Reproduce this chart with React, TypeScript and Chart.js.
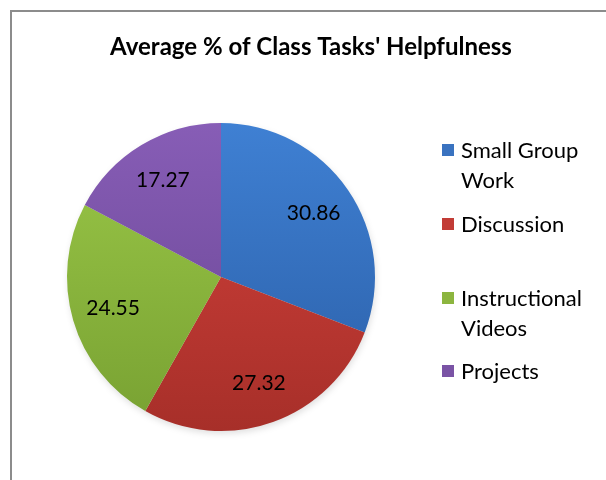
import React, { useEffect, useRef } from "react";
import { Chart, registerables } from "chart.js";

Chart.register(...registerables);

const TITLE = "Average % of Class Tasks' Helpfulness";
const categories = ["Small Group Work", "Discussion", "Instructional Videos", "Projects"];
const legendLines = [["Small Group", "Work"], ["Discussion"], ["Instructional", "Videos"], ["Projects"]];
const values = [30.86, 27.32, 24.55, 17.27];
const valueLabels = ["30.86", "27.32", "24.55", "17.27"];
const lightColors = ["#3f80d3", "#d4423c", "#9bc848", "#875db6"];
const darkColors = ["#2a5ea6", "#a72f29", "#78a132", "#684592"];
const legendColors = ["#3a73c0", "#c23c36", "#8cb53f", "#7a53a5"];

const FONT = "Lato, 'Open Sans', 'Liberation Sans', sans-serif";

export default function App() {
  const ref = useRef<HTMLCanvasElement | null>(null);

  useEffect(() => {
    const canvas = ref.current;
    if (!canvas) return;

    const decor = {
      id: "decor",
      beforeDatasetsDraw(chart: any) {
        const ctx = chart.ctx;
        const meta = chart.getDatasetMeta(0);
        const arc = meta.data[0];
        if (!arc) return;
        ctx.save();
        ctx.beginPath();
        ctx.arc(arc.x + 1, arc.y + 3, arc.outerRadius, 0, Math.PI * 2);
        ctx.fillStyle = "rgba(0,0,0,0.12)";
        ctx.filter = "blur(3px)";
        ctx.fill();
        ctx.restore();
      },
      afterDatasetsDraw(chart: any) {
        const ctx = chart.ctx;
        const meta = chart.getDatasetMeta(0);
        ctx.save();
        ctx.fillStyle = "#000";
        ctx.textAlign = "center";
        ctx.textBaseline = "middle";
        ctx.font = `21px ${FONT}`;
        meta.data.forEach((el: any, i: number) => {
          const mid = (el.startAngle + el.endAngle) / 2;
          const r = el.outerRadius * 0.73;
          ctx.fillText(valueLabels[i], el.x + Math.cos(mid) * r, el.y + Math.sin(mid) * r);
        });
        // title
        ctx.font = `bold 24px ${FONT}`;
        ctx.textBaseline = "alphabetic";
        ctx.fillText(TITLE, 311, 55);
        // legend
        const firstY = [150, 224, 298, 371];
        ctx.textAlign = "left";
        ctx.textBaseline = "middle";
        ctx.font = `22px ${FONT}`;
        legendLines.forEach((lines, i) => {
          const y0 = firstY[i];
          ctx.fillStyle = legendColors[i];
          ctx.fillRect(442, y0 - 6, 12, 12);
          ctx.fillStyle = "#000";
          lines.forEach((t, j) => ctx.fillText(t, 461, y0 + 1 + j * 30));
        });
        ctx.restore();
      },
    };

    const chart = new Chart(canvas, {
      type: "pie",
      data: {
        labels: categories,
        datasets: [
          {
            data: values,
            backgroundColor: (c: any) => {
              const area = c.chart.chartArea;
              if (!area) return lightColors[c.dataIndex];
              const g = c.chart.ctx.createLinearGradient(0, area.top, 0, area.bottom);
              g.addColorStop(0, lightColors[c.dataIndex]);
              g.addColorStop(1, darkColors[c.dataIndex]);
              return g;
            },
            borderWidth: 0,
            hoverOffset: 0,
          },
        ],
      },
      options: {
        responsive: false,
        animation: false,
        devicePixelRatio: 1,
        layout: { padding: { left: 67, right: 231, top: 123, bottom: 49 } },
        plugins: {
          legend: { display: false },
          title: { display: false },
          tooltip: { enabled: false },
        },
        events: [],
      },
      plugins: [decor],
    });
    return () => chart.destroy();
  }, []);

  return (
    <div style={{ position: "fixed", left: 0, top: 0, width: 606, height: 480, background: "#fff", overflow: "hidden" }}>
      <div
        style={{
          position: "absolute",
          left: 10,
          top: 10,
          width: 620,
          height: 500,
          borderLeft: "2px solid #8c8c8c",
          borderTop: "2px solid #8c8c8c",
        }}
      />
      <canvas ref={ref} width={606} height={480} style={{ position: "absolute", left: 0, top: 0 }} />
    </div>
  );
}
